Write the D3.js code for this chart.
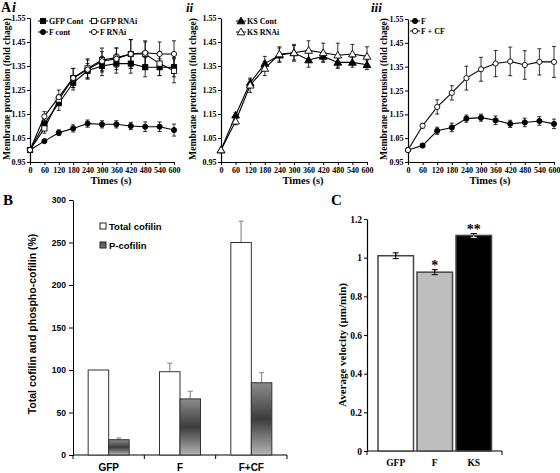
<!DOCTYPE html>
<html><head><meta charset="utf-8">
<script src="https://cdn.jsdelivr.net/npm/d3@7"></script>
<style>body{margin:0;background:#fff}svg{display:block}</style>
</head><body>
<svg id="chart" width="560" height="473"></svg>
<script>
// ---------- DATA ----------
const times = [0,60,120,180,240,300,360,420,480,540,600];
const aYTicks = [0.95,1.05,1.15,1.25,1.35,1.45,1.55];

// Panel A i
const gfpCont    = [1.0,1.11,1.195,1.28,1.33,1.35,1.36,1.36,1.345,1.345,1.345];
const gfpContErr = [0,0.02,0.03,0.03,0.03,0.04,0.04,0.04,0.04,0.035,0.04];
const gfpRnai    = [1.0,1.09,1.21,1.30,1.34,1.375,1.385,1.40,1.40,1.36,1.33];
const gfpRnaiErr = [0,0.02,0.02,0.04,0.04,0.05,0.04,0.06,0.05,0.05,0.05];
const fCont      = [1.0,1.037,1.072,1.09,1.11,1.107,1.107,1.10,1.097,1.097,1.083];
const fContErr   = [0,0.005,0.012,0.015,0.015,0.015,0.015,0.015,0.02,0.02,0.025];
const fRnai      = [1.0,1.14,1.22,1.30,1.335,1.37,1.38,1.40,1.405,1.40,1.40];
const fRnaiErr   = [0,0.02,0.03,0.04,0.04,0.04,0.045,0.06,0.05,0.05,0.055];

// Panel A ii
const ksCont     = [1.0,1.145,1.28,1.36,1.395,1.405,1.375,1.39,1.365,1.365,1.355];
const ksContErr  = [0,0.01,0.015,0.03,0.03,0.035,0.03,0.02,0.025,0.02,0.02];
const ksRnai     = [1.0,1.12,1.27,1.34,1.40,1.405,1.415,1.405,1.395,1.40,1.39];
const ksRnaiErr  = [0,0.015,0.03,0.03,0.03,0.03,0.04,0.04,0.05,0.04,0.04];

// Panel A iii
const fOnly      = [1.0,1.019,1.081,1.095,1.132,1.136,1.125,1.11,1.116,1.122,1.11];
const fOnlyErr   = [0,0.008,0.015,0.018,0.015,0.015,0.018,0.015,0.018,0.018,0.02];
const fCf        = [1.0,1.102,1.181,1.24,1.302,1.339,1.363,1.372,1.357,1.37,1.37];
const fCfErr     = [0,0.01,0.03,0.03,0.05,0.05,0.055,0.06,0.06,0.055,0.065];

// Panel B
const bCategories = ["GFP","F","F+CF"];
const bSeries     = ["Total cofilin","P-cofilin"];
const bTotal      = [100,98,250];
const bTotalErr   = [0,10,25];
const bPhos       = [18,66,85];
const bPhosErr    = [2,9,12];
const bYTicks     = [0,50,100,150,200,250,300];

// Panel C
const cCategories = ["GFP","F","KS"];
const cValues     = [1.01,0.925,1.115];
const cErr        = [0.015,0.013,0.01];
const cStars      = ["","*","**"];
const cYTicks     = [0,0.2,0.4,0.6,0.8,1,1.2];

// ---------- DRAWING ----------
const svg = d3.select("#chart");
const serif = "'Liberation Serif','Times New Roman',serif";
const sans = "'Liberation Sans',Arial,sans-serif";

function styleAxis(sel, font, size){
  sel.select(".domain").attr("stroke","#000").attr("stroke-width",1.2);
  sel.selectAll(".tick line").attr("stroke","#000").attr("stroke-width",1);
  sel.selectAll("text").attr("font-family",font).attr("font-weight","bold")
     .attr("font-size",size).attr("fill","#000");
}

function drawMarker(g, type, cx, cy){
  if (type==="sqF"||type==="sqO"){
    g.append("rect").attr("x",cx-2.6).attr("y",cy-2.6).attr("width",5.2).attr("height",5.2)
     .attr("fill",type==="sqF"?"#000":"#fff").attr("stroke","#000").attr("stroke-width",0.9);
  } else if (type==="ciF"||type==="ciO"){
    g.append("circle").attr("cx",cx).attr("cy",cy).attr("r",2.6)
     .attr("fill",type==="ciF"?"#000":"#fff").attr("stroke","#000").attr("stroke-width",0.9);
  } else {
    g.append("path").attr("d",d3.symbol(d3.symbolTriangle,26)())
     .attr("transform",`translate(${cx},${cy+0.6})`)
     .attr("fill",type==="trF"?"#000":"#fff").attr("stroke","#000").attr("stroke-width",0.9);
  }
}

function linePanel(o){
  const x = d3.scaleLinear().domain([0,600]).range(o.xr);
  const y = d3.scaleLinear().domain([0.95,1.55]).range(o.yr);
  const g = svg.append("g");
  const ya = g.append("g").attr("transform",`translate(${o.xr[0]},0)`)
    .call(d3.axisLeft(y).tickValues(aYTicks).tickFormat(d3.format(".2f")).tickSize(3).tickSizeOuter(0).tickPadding(1.5));
  styleAxis(ya, serif, 8);
  const xa = g.append("g").attr("transform",`translate(0,${o.yr[0]})`)
    .call(d3.axisBottom(x).tickValues(times).tickFormat(d3.format("d")).tickSize(3).tickSizeOuter(0).tickPadding(2.5));
  styleAxis(xa, serif, 8);
  g.append("text").attr("x",(o.xr[0]+o.xr[1])/2+9).attr("y",184).attr("text-anchor","middle")
   .attr("font-family",serif).attr("font-weight","bold").attr("font-size",10.5).text("Times (s)");
  g.append("text").attr("transform",`translate(${o.labelX},89) rotate(-90)`).attr("text-anchor","middle")
   .attr("font-family",serif).attr("font-weight","bold").attr("font-size",9.6)
   .text("Membrane protrusion (fold chage)");
  const line = d3.line().x((d,i)=>x(times[i])).y(d=>y(d));
  o.series.forEach(s=>{
    const eg = g.append("g");
    s.values.forEach((v,i)=>{
      const e = s.err[i]; if(!e) return;
      const cx = x(times[i]);
      eg.append("line").attr("x1",cx).attr("x2",cx).attr("y1",y(v-e)).attr("y2",y(v+e)).attr("stroke","#000").attr("stroke-width",0.8);
      [v-e,v+e].forEach(w=>eg.append("line").attr("x1",cx-2).attr("x2",cx+2).attr("y1",y(w)).attr("y2",y(w)).attr("stroke","#000").attr("stroke-width",0.8));
    });
  });
  o.series.forEach(s=>{
    g.append("path").datum(s.values).attr("d",line).attr("fill","none").attr("stroke","#000").attr("stroke-width",1.1);
  });
  o.series.forEach(s=>{
    s.values.forEach((v,i)=>drawMarker(g,s.mark,x(times[i]),y(v)));
  });
  // legend
  o.series.forEach((s,k)=>{
    const lx = o.legend[k][0], ly = o.legend[k][1];
    g.append("line").attr("x1",lx-5).attr("x2",lx+5).attr("y1",ly).attr("y2",ly).attr("stroke","#000").attr("stroke-width",1);
    drawMarker(g,s.mark,lx,ly);
    g.append("text").attr("x",lx+6).attr("y",ly+3).attr("font-family",serif).attr("font-weight","bold")
     .attr("font-size",8).text(s.name);
  });
}

linePanel({xr:[30,174], yr:[162,18], labelX:9.5,
  series:[
    {name:"GFP Cont", values:gfpCont, err:gfpContErr, mark:"sqF"},
    {name:"GFP RNAi", values:gfpRnai, err:gfpRnaiErr, mark:"sqO"},
    {name:"F cont",   values:fCont,   err:fContErr,   mark:"ciF"},
    {name:"F RNAi",   values:fRnai,   err:fRnaiErr,   mark:"ciO"}],
  legend:[[43,21],[94,21],[43,32],[94,32]]});

linePanel({xr:[221,367], yr:[162,18], labelX:195.5,
  series:[
    {name:"KS Cont", values:ksCont, err:ksContErr, mark:"trF"},
    {name:"KS RNAi", values:ksRnai, err:ksRnaiErr, mark:"trO"}],
  legend:[[241,21],[241,32]]});

linePanel({xr:[408,554], yr:[162,19], labelX:386.5,
  series:[
    {name:"F",      values:fOnly, err:fOnlyErr, mark:"ciF"},
    {name:"F + CF", values:fCf,   err:fCfErr,   mark:"ciO"}],
  legend:[[415,21],[415,31]]});

// panel letters
function label(t, x, y, size, italic){
  svg.append("text").attr("x",x).attr("y",y).attr("font-family",serif).attr("font-weight","bold")
   .attr("font-size",size).attr("font-style",italic?"italic":"normal").text(t);
}
label("A",1,12,14,false); label("i",12,12,14,true);
label("ii",186,12,13,true); label("iii",371,12,13,true);
label("B",3,205,15,false); label("C",331,205,15,false);

// ---------- Panel B ----------
(function(){
  const defs = svg.append("defs");
  const gr = defs.append("linearGradient").attr("id","pgrad").attr("x1",0).attr("y1",0).attr("x2",0).attr("y2",1);
  gr.append("stop").attr("offset","0%").attr("stop-color","#8c8c8c");
  gr.append("stop").attr("offset","50%").attr("stop-color","#3c3c3c");
  gr.append("stop").attr("offset","100%").attr("stop-color","#b4b4b4");
  const lg = defs.append("linearGradient").attr("id","pgrad2").attr("x1",0).attr("y1",0).attr("x2",0).attr("y2",1);
  lg.append("stop").attr("offset","0%").attr("stop-color","#555");
  lg.append("stop").attr("offset","100%").attr("stop-color","#777");

  const x0 = d3.scaleBand().domain(bCategories).range([73,287]).padding(0);
  const x1 = d3.scaleBand().domain(bSeries).range([0,x0.bandwidth()]).paddingInner(0).paddingOuter(0.74);
  const y = d3.scaleLinear().domain([0,300]).range([455,200]);
  const g = svg.append("g");
  const ya = g.append("g").attr("transform","translate(73,0)")
    .call(d3.axisLeft(y).tickValues(bYTicks).tickSize(4).tickSizeOuter(0).tickPadding(3));
  styleAxis(ya, sans, 8.5);
  ya.select(".domain").attr("stroke-width",1);
  g.append("line").attr("x1",73).attr("x2",287).attr("y1",455).attr("y2",455).attr("stroke","#000").attr("stroke-width",1);
  const bounds = bCategories.map(c=>x0(c)).concat([x0(bCategories[2])+x0.bandwidth()]);
  bounds.forEach(b=>g.append("line").attr("x1",b).attr("x2",b).attr("y1",455).attr("y2",459).attr("stroke","#000"));
  bCategories.forEach(c=>g.append("text").attr("x",x0(c)+x0.bandwidth()/2).attr("y",471).attr("text-anchor","middle")
     .attr("font-family",sans).attr("font-weight","bold").attr("font-size",10).text(c));
  const sets = [{s:bSeries[0],v:bTotal,e:bTotalErr,fill:"#fff"},{s:bSeries[1],v:bPhos,e:bPhosErr,fill:"url(#pgrad)"}];
  sets.forEach(st=>{
    bCategories.forEach((c,i)=>{
      const bx = x0(c)+x1(st.s), bw = x1.bandwidth();
      const top = y(st.v[i]);
      if (st.e[i]){
        const et = y(st.v[i]+st.e[i]);
        g.append("line").attr("x1",bx+bw/2).attr("x2",bx+bw/2).attr("y1",top).attr("y2",et).attr("stroke","#999").attr("stroke-width",1.3);
        g.append("line").attr("x1",bx+bw/2-2.5).attr("x2",bx+bw/2+2.5).attr("y1",et).attr("y2",et).attr("stroke","#999").attr("stroke-width",1.3);
      }
      g.append("rect").attr("x",bx).attr("y",top).attr("width",bw).attr("height",455-top)
        .attr("fill",st.fill).attr("stroke","#333").attr("stroke-width",1);
    });
  });
  const leg = [[bSeries[0],"#fff",226],[bSeries[1],"url(#pgrad2)",245]];
  leg.forEach(l=>{
    g.append("rect").attr("x",100).attr("y",l[2]-3).attr("width",6).attr("height",6).attr("fill",l[1]).attr("stroke","#222").attr("stroke-width",1);
    g.append("text").attr("x",109).attr("y",l[2]+3.5).attr("font-family",sans).attr("font-weight","bold").attr("font-size",9.5).text(l[0]);
  });
  g.append("text").attr("transform","translate(36,324) rotate(-90)").attr("text-anchor","middle")
   .attr("font-family",sans).attr("font-weight","bold").attr("font-size",10.5).text("Total cofilin and phospho-cofilin (%)");
})();

// ---------- Panel C ----------
(function(){
  const x = d3.scaleBand().domain(cCategories).range([378,491.5]).paddingInner(0.09).paddingOuter(0);
  const y = d3.scaleLinear().domain([0,1.2]).range([451,219]);
  const g = svg.append("g");
  const ya = g.append("g").attr("transform","translate(367,0)")
    .call(d3.axisLeft(y).tickValues(cYTicks).tickFormat(d3.format("~g")).tickSize(3).tickSizeOuter(0).tickPadding(2));
  styleAxis(ya, serif, 9.5);
  g.append("line").attr("x1",367).attr("x2",502).attr("y1",451).attr("y2",451).attr("stroke","#000").attr("stroke-width",1.2);
  [367,502].forEach(b=>g.append("line").attr("x1",b).attr("x2",b).attr("y1",451).attr("y2",455).attr("stroke","#000"));
  const fills = ["#fff","#bdbdbd","#000"];
  cCategories.forEach((c,i)=>{
    const bx = x(c), bw = x.bandwidth(), top = y(cValues[i]);
    g.append("rect").attr("x",bx).attr("y",top).attr("width",bw).attr("height",451-top)
      .attr("fill",fills[i]).attr("stroke","#444").attr("stroke-width",1.5);
    const cx = bx+bw/2, e1 = y(cValues[i]-cErr[i]), e2 = y(cValues[i]+cErr[i]);
    const col = "#000";
    g.append("line").attr("x1",cx).attr("x2",cx).attr("y1",e1).attr("y2",e2).attr("stroke",i===2?"#fff":col).attr("stroke-width",1);
    g.append("line").attr("x1",cx).attr("x2",cx).attr("y1",Math.min(e2,top)).attr("y2",top).attr("stroke",col).attr("stroke-width",1);
    [e1,e2].forEach(w=>g.append("line").attr("x1",cx-3).attr("x2",cx+3).attr("y1",w).attr("y2",w).attr("stroke",(i===2&&w===e1)?"#fff":col).attr("stroke-width",1));
    g.append("text").attr("x",cx).attr("y",466).attr("text-anchor","middle").attr("font-family",serif)
      .attr("font-weight","bold").attr("font-size",9.5).text(c);
    if (cStars[i]) g.append("text").attr("x",cx).attr("y",e2+0.5).attr("text-anchor","middle").attr("font-family",serif)
      .attr("font-weight","bold").attr("font-size",14).attr("fill","#000").text(cStars[i]);
  });
  g.append("text").attr("transform","translate(346,345) rotate(-90)").attr("text-anchor","middle")
   .attr("font-family",serif).attr("font-weight","bold").attr("font-size",11).text("Average velocity (μm/min)");
})();
</script>
</body></html>
